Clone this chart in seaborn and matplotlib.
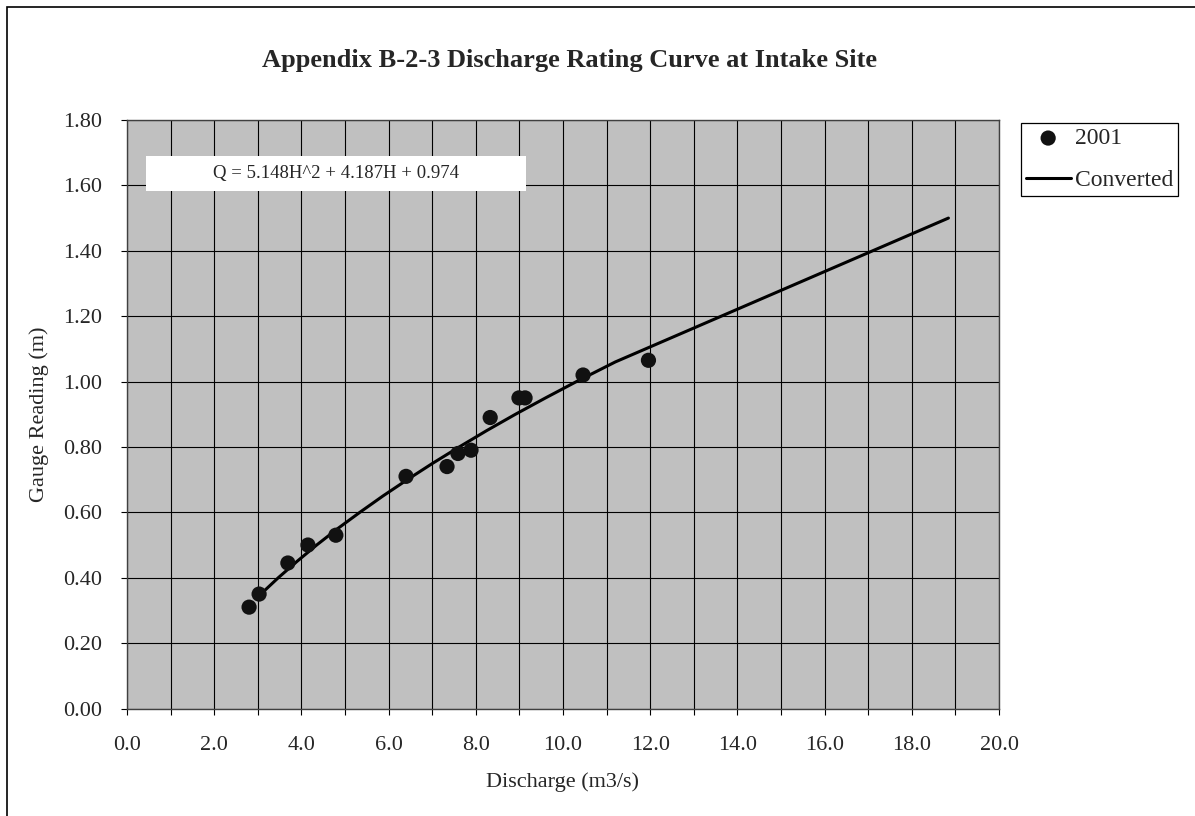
"""Appendix B-2-3 discharge rating curve at intake site (Excel-style chart)."""

import matplotlib

matplotlib.use("Agg")
import matplotlib.pyplot as plt
import pandas as pd
import seaborn as sns
from matplotlib.patches import Rectangle
from matplotlib.ticker import MultipleLocator, FormatStrFormatter

# observed 2001 gaugings: discharge (m3/s) vs gauge reading (m)
obs_q = [2.80, 3.03, 3.69, 4.15, 4.79, 6.40, 7.34, 7.59, 7.89, 8.33, 8.99, 9.13, 10.46, 11.96]
obs_h = [0.31, 0.35, 0.445, 0.50, 0.53, 0.71, 0.74, 0.78, 0.79, 0.89, 0.95, 0.95, 1.02, 1.065]

# converted rating curve
conv_h = [0.35, 0.40, 0.45, 0.50, 0.55, 0.60, 0.65, 0.70, 0.75, 0.80,
          0.85, 0.90, 0.95, 1.00, 1.06, 1.50]
conv_q = [3.07, 3.47, 3.90, 4.35, 4.83, 5.34, 5.87, 6.43, 7.01, 7.62,
          8.25, 8.91, 9.60, 10.31, 11.20, 18.84]

equation = "Q = 5.148H^2 + 4.187H + 0.974"

obs = pd.DataFrame({"Discharge": obs_q, "Gauge": obs_h})
conv = pd.DataFrame({"Discharge": conv_q, "Gauge": conv_h})

sns.set_theme(style="white")
plt.rcParams["font.family"] = ["Liberation Serif", "DejaVu Serif"]

fig = plt.figure(figsize=(11.95, 8.16), dpi=100)
ax = fig.add_axes([127 / 1195, 1 - 708.5 / 816, 872 / 1195, 588.5 / 816])
ax.set_facecolor("#c0c0c0")

sns.lineplot(data=conv, x="Discharge", y="Gauge", sort=False, color="black",
             linewidth=2.2, ax=ax, label="Converted", zorder=3)
sns.scatterplot(data=obs, x="Discharge", y="Gauge", color="#111111", s=120,
                edgecolor="none", ax=ax, label="2001", zorder=4)

ax.set_xlim(0, 20)
ax.set_ylim(0, 1.8)
ax.xaxis.set_major_locator(MultipleLocator(2))
ax.xaxis.set_minor_locator(MultipleLocator(1))
ax.yaxis.set_major_locator(MultipleLocator(0.2))
ax.xaxis.set_major_formatter(FormatStrFormatter("%.1f"))
ax.yaxis.set_major_formatter(FormatStrFormatter("%.2f"))
ax.grid(which="both", color="black", linewidth=0.8)
ax.set_axisbelow(True)
for sp in ax.spines.values():
    sp.set_color("#404040")
    sp.set_linewidth(1.0)
ax.tick_params(axis="both", which="major", labelsize=16, length=4, width=0.8,
               color="black", direction="out", pad=16)
ax.tick_params(axis="y", pad=14)
ax.tick_params(axis="x", which="minor", length=4, width=0.8, color="black", bottom=True)
ax.tick_params(axis="y", which="major", left=True)
ax.tick_params(axis="x", which="major", bottom=True)

ax.set_xlabel("Discharge (m3/s)", fontsize=16, labelpad=12)
ax.set_ylabel("Gauge Reading (m)", fontsize=16, labelpad=10)

# equation box
ax.add_patch(Rectangle((0.0218, 0.879), 0.4358, 0.060, transform=ax.transAxes,
                       facecolor="white", edgecolor="none", zorder=5))
ax.text(0.2397, 0.909, equation, transform=ax.transAxes, ha="center", va="center",
        fontsize=13.5, zorder=6)

fig.text(570 / 1195, 1 - 60 / 816, "Appendix B-2-3 Discharge Rating Curve at Intake Site",
         ha="center", va="center", fontsize=19, fontweight="bold")

handles, labels = ax.get_legend_handles_labels()
order = [labels.index("2001"), labels.index("Converted")]
ax.legend_.remove()
leg = fig.legend([handles[i] for i in order], [labels[i] for i in order],
                 loc="upper left", bbox_to_anchor=(1021 / 1195, 1 - 123 / 816),
                 frameon=True, fancybox=False, framealpha=1, edgecolor="black",
                 fontsize=17, handlelength=1.9, handletextpad=0.2,
                 borderpad=0.2, labelspacing=0.85, borderaxespad=0)
leg.get_frame().set_linewidth(0.9)

# outer chart border (right/bottom edges fall outside the picture)
fig.patches.append(Rectangle((7 / 1195, -0.05), 1.1, 1 - 7 / 816 + 0.05,
                             transform=fig.transFigure, fill=False,
                             edgecolor="black", linewidth=1.2))

fig.savefig("out.png", dpi=100)
